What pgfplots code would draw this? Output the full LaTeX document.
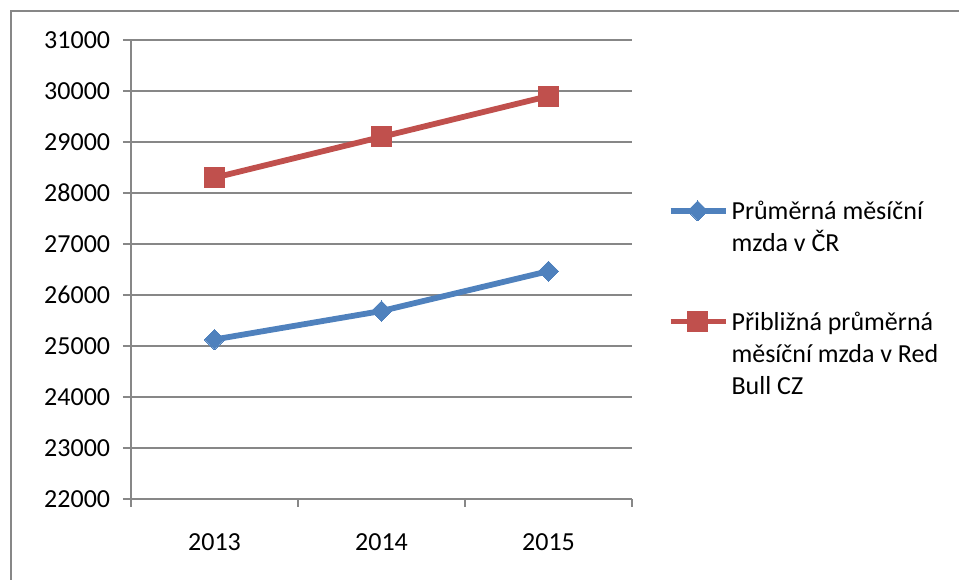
\documentclass[border=0pt]{standalone}
\usepackage{fontspec}
\setmainfont{Carlito}
\usepackage{pgfplots}
\pgfplotsset{compat=1.18}

\definecolor{xlblue}{HTML}{4F81BD}
\definecolor{xlred}{HTML}{C0504D}
\definecolor{xlgrid}{HTML}{878787}

\newcommand{\entry}[1]{\parbox[t]{215pt}{\raggedright\fontsize{26}{32}\selectfont #1}}

\begin{document}
\begin{tikzpicture}[x=1pt,y=1pt]
\fontsize{26}{32}\selectfont
\useasboundingbox (0,0) rectangle (959,580);
% chart frame (top and left edges)
\draw[xlgrid, line width=2pt] (11,0) -- (11,569) -- (959,569);

\begin{axis}[
  scale only axis,
  width=501pt, height=459pt,
  at={(131pt,81pt)}, anchor=south west,
  xmin=-0.5, xmax=2.5,
  ymin=22000, ymax=31000,
  ytick={22000,23000,...,31000},
  xtick={-0.5,0.5,1.5,2.5},
  xticklabels={},
  extra x ticks={0,1,2},
  extra x tick labels={2013,2014,2015},
  extra x tick style={major tick length=0pt, grid=none},
  axis x line*=bottom,
  axis y line*=left,
  axis line style={xlgrid, line width=1.5pt, -},
  tick align=outside,
  major tick length=8pt,
  tick style={xlgrid, line width=1.5pt},
  ymajorgrids,
  major grid style={xlgrid, line width=1.5pt},
  scaled y ticks=false,
  /pgf/number format/assume math mode=true,
  yticklabel={\pgfmathprintnumber[fixed,1000 sep={}]{\tick}},
  ticklabel style={font=\fontsize{26}{32}\selectfont},
  xticklabel style={yshift=-26pt},
  yticklabel style={xshift=-4pt},
  clip=false,
  legend style={
    at={(1.065,0.5045)}, anchor=west,
    draw=none, fill=none,
    font=\fontsize{26}{32}\selectfont,
    row sep=88pt,
    nodes={inner xsep=3pt, inner ysep=0pt},
  },
  legend cell align=left,
  legend image code/.code={%
    \draw[#1, mark repeat=2, mark phase=2, yshift=1.5pt]
      plot coordinates {(0pt,0pt) (27pt,0pt) (55pt,0pt)};},
]
\addplot[xlblue, line width=5.8pt, mark=square*, mark size=7.1pt,
  mark options={rotate=45, solid, line width=0pt}]
  coordinates {(0,25128) (1,25686) (2,26467)};
\addlegendentry{\entry{Průměrná měsíční\\mzda v ČR}}

\addplot[xlred, line width=5.8pt, mark=square*, mark size=10pt,
  mark options={solid, line width=0pt}]
  coordinates {(0,28300) (1,29100) (2,29900)};
\addlegendentry{\entry{Přibližná průměrná\\měsíční mzda v Red\\Bull CZ}}
\end{axis}
\end{tikzpicture}
\end{document}
